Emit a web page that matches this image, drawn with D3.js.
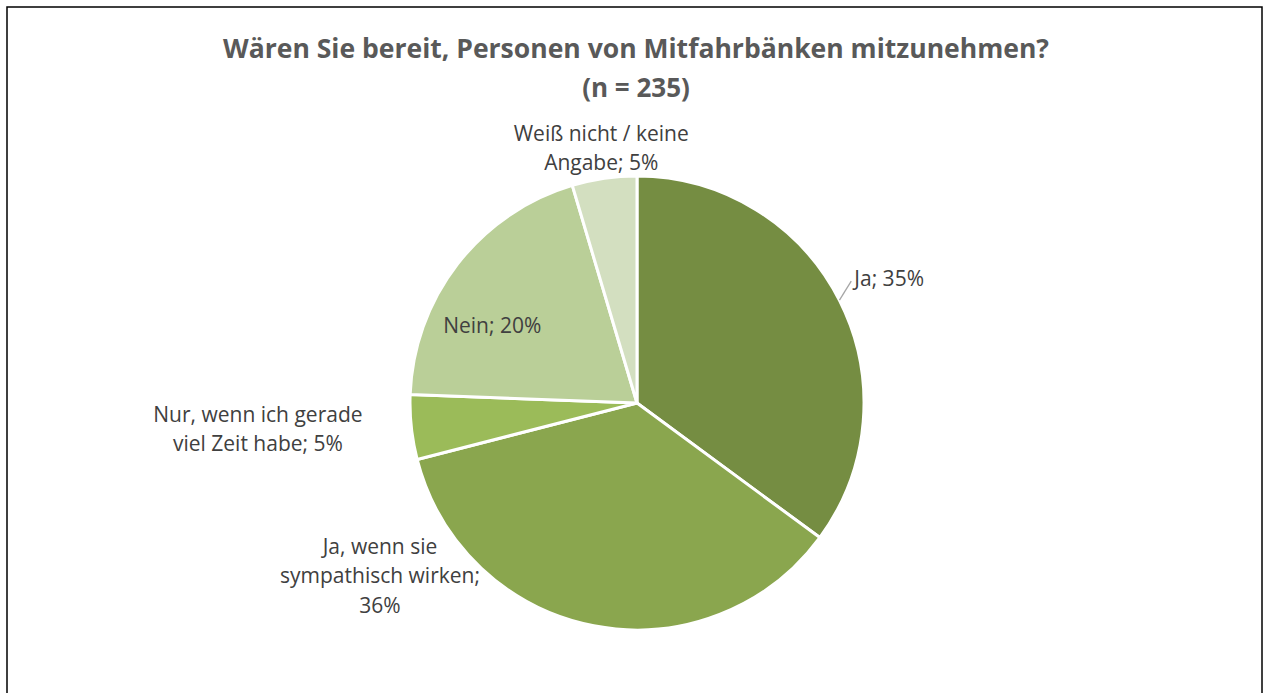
<!DOCTYPE html>
<html>
<head>
<meta charset="utf-8">
<script src="https://cdn.jsdelivr.net/npm/d3@7"></script>
<style>
  body { margin: 0; background: #fff; }
  svg { display: block; }
</style>
</head>
<body>
<svg id="chart" width="1266" height="693"></svg>
<script>
/* Pie chart: Mitfahrbänke survey */

var categories = ["Ja", "Ja, wenn sie sympathisch wirken", "Nur, wenn ich gerade viel Zeit habe", "Nein", "Weiß nicht / keine Angabe"];
var shares = [35.1, 35.9, 4.6, 19.8, 4.6];
// label text as it appears in the chart (line breaks)
var labelLines = [
  ["Ja; 35%"],
  ["Ja, wenn sie", "sympathisch wirken;", "36%"],
  ["Nur, wenn ich gerade", "viel Zeit habe; 5%"],
  ["Nein; 20%"],
  ["Weiß nicht / keine", "Angabe; 5%"]
];
var colors = ["#758d42", "#8aa64e", "#9bbb59", "#bacf98", "#d3dfc0"];
var titleLines = ["Wären Sie bereit, Personen von Mitfahrbänken mitzunehmen?", "(n = 235)"];

// label placement (angle in degrees clockwise from top, radius in px)
var labelPolar = [
  {a: 64, r: 283, anchor: "start"},
  {a: 236, r: 310, anchor: "middle"},
  {a: 266, r: 380, anchor: "middle"},
  {a: 298, r: 164, anchor: "middle"},
  {a: 352, r: 257, anchor: "middle"}
];

var width = 1266, height = 693;
var cx = 637, cy = 403, radius = 227;

var svg = d3.select("#chart");

// outer frame
svg.append("rect")
  .attr("x", 7).attr("y", 7)
  .attr("width", 1255).attr("height", 700)
  .attr("fill", "none")
  .attr("stroke", "#000")
  .attr("stroke-width", 1.5);

// title
var title = svg.append("text")
  .attr("text-anchor", "middle")
  .attr("font-family", "Open Sans")
  .attr("font-weight", "bold")
  .attr("font-size", 26)
  .attr("fill", "#595959");
title.selectAll("tspan")
  .data(titleLines)
  .enter().append("tspan")
  .attr("x", 636)
  .attr("y", function(d, i) { return 58 + i * 39; })
  .text(function(d) { return d; });
// squeeze the first line to the original (narrower) width
title.select("tspan")
  .attr("textLength", 826)
  .attr("lengthAdjust", "spacingAndGlyphs");

var pie = d3.pie().sort(null).value(function(d) { return d; });
var arc = d3.arc().innerRadius(0).outerRadius(radius);
var arcs = pie(shares);

var g = svg.append("g").attr("transform", "translate(" + cx + "," + cy + ")");

g.selectAll("path.slice")
  .data(arcs)
  .enter().append("path")
  .attr("class", "slice")
  .attr("d", arc)
  .attr("fill", function(d, i) { return colors[i]; })
  .attr("stroke", "#fff")
  .attr("stroke-width", 3)
  .attr("stroke-linejoin", "round");

function polar(a, r) {
  var t = a * Math.PI / 180;
  return [Math.sin(t) * r, -Math.cos(t) * r];
}

// leader line for the "Ja" label
var jaAngle = 63.5;
var p0 = polar(jaAngle, radius - 3);
var p1 = polar(jaAngle - 4, radius + 17);
g.append("line")
  .attr("x1", p0[0] + 2).attr("y1", p0[1] - 3)
  .attr("x2", p1[0] + 4).attr("y2", p1[1] + 2)
  .attr("stroke", "#a6a6a6")
  .attr("stroke-width", 1.3);

var lineH = 29.5;
var labels = g.selectAll("text.lbl")
  .data(arcs)
  .enter().append("text")
  .attr("class", "lbl")
  .attr("font-family", "Open Sans")
  .attr("font-size", 21)
  .attr("fill", "#404040")
  .attr("text-anchor", function(d, i) { return labelPolar[i].anchor; })
  .each(function(d, i) {
    var p = polar(labelPolar[i].a, labelPolar[i].r);
    var lines = labelLines[i];
    var y0 = p[1] - (lines.length - 1) * lineH / 2 + 7;
    d3.select(this).selectAll("tspan")
      .data(lines)
      .enter().append("tspan")
      .attr("x", labelPolar[i].anchor === "start" ? p[0] - 37 : p[0])
      .attr("y", function(l, j) { return y0 + j * lineH; })
      .text(function(l) { return l; });
  });
</script>
</body>
</html>
